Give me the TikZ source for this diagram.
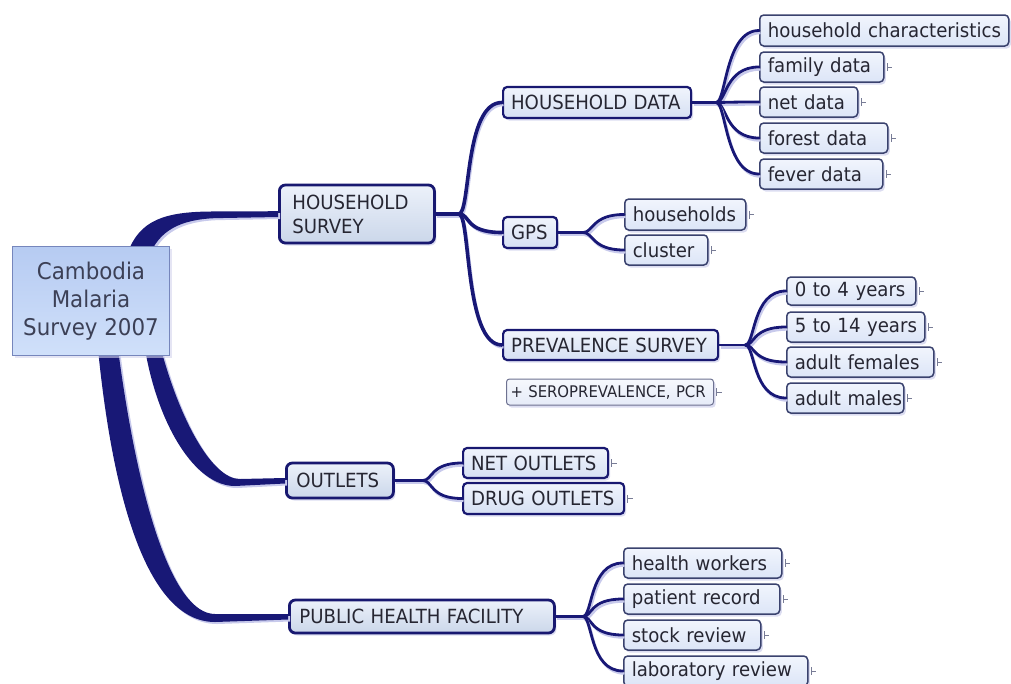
\documentclass[tikz,border=0pt]{standalone}
\usepackage{fontspec}
\setmainfont{DejaVu Sans}[FakeStretch=0.93]
\usetikzlibrary{calc,shadows}
\definecolor{navy}{RGB}{24,24,112}
\definecolor{linec}{RGB}{24,24,118}
\definecolor{shad}{RGB}{212,213,238}
\definecolor{lshad}{RGB}{200,202,236}
\definecolor{txt}{RGB}{38,38,50}
\definecolor{leafb}{RGB}{58,66,110}
\definecolor{stubc}{RGB}{120,124,150}
\tikzset{
  x=1pt, y=-1pt,
  base/.style={anchor=west, inner xsep=8pt, inner ysep=0pt, align=left, text=txt,
    rounded corners=4pt, font=\fontsize{19.5}{24}\selectfont,
    drop shadow={shadow xshift=2pt, shadow yshift=-2.5pt, fill=shad, opacity=0.8}},
  lvtwo/.style={base, draw=navy, line width=2.8pt, rounded corners=6pt,
    top color={rgb,255:red,236;green,241;blue,250}, bottom color={rgb,255:red,203;green,215;blue,234}},
  lvthree/.style={base, draw=navy, line width=2.2pt,
    top color={rgb,255:red,240;green,244;blue,252}, bottom color={rgb,255:red,214;green,224;blue,243}},
  leaf/.style={base, draw=leafb, line width=1.5pt,
    top color={rgb,255:red,241;green,245;blue,253}, bottom color={rgb,255:red,220;green,229;blue,247}},
  note/.style={base, draw={rgb,255:red,110;green,114;blue,145}, line width=1pt, rounded corners=3pt,
    inner xsep=4pt, font=\fontsize{16}{19}\selectfont,
    top color={rgb,255:red,246;green,248;blue,253}, bottom color={rgb,255:red,230;green,235;blue,248}},
  conn/.style={draw=linec, line width=2.8pt, line cap=round,
    preaction={draw=lshad, line width=2.4pt, transform canvas={shift={(1.5pt,-2.5pt)}}}},
  connb/.style={conn, line width=3.6pt},
  trunk/.style={fill=linec, draw=none,
    preaction={fill=lshad, transform canvas={shift={(2pt,-2pt)}}}},
  stub/.style={draw=stubc, line width=1pt},
}
\newcommand{\stubat}[1]{\draw[stub] ($(#1.east)+(2.5,0)$) -- ++(5,0); \draw[stub] ($(#1.east)+(2.5,-4)$) -- ++(0,8);}
\begin{document}
\begin{tikzpicture}
\useasboundingbox[fill=white] (0,0) rectangle (1011,683);

% ---------- nodes ----------
\node[lvtwo, inner xsep=13pt, text width=129pt, minimum height=58pt] (hs) at (278,214) {HOUSEHOLD\\SURVEY};
\node[lvtwo, inner xsep=10pt, text width=87pt, minimum height=35pt] (out) at (285,480.5) {OUTLETS};
\node[lvtwo, inner xsep=10pt, text width=245pt, minimum height=33pt] (phf) at (288,616.5) {\mbox{PUBLIC HEALTH FACILITY}};

\node[lvthree, text width=172pt, minimum height=31pt] (hd) at (502,102.5) {\mbox{HOUSEHOLD DATA}};
\node[lvthree, text width=38pt, minimum height=31pt] (gps) at (502,232.5) {GPS};
\node[lvthree, text width=199pt, minimum height=30pt] (ps) at (502,345) {\mbox{PREVALENCE SURVEY}};
\node[note, text width=199pt, minimum height=26pt] (sero) at (506,392) {\mbox{+ SEROPREVALENCE, PCR}};
\node[lvthree, text width=129pt, minimum height=30pt] (no) at (462,463) {\mbox{NET OUTLETS}};
\node[lvthree, text width=145pt, minimum height=31pt] (do) at (462,498.5) {\mbox{DRUG OUTLETS}};

\node[leaf, text width=233pt, minimum height=31pt] (hc) at (759,30.5) {\mbox{household characteristics}};
\node[leaf, text width=108pt, minimum height=30pt] (fam) at (759,67) {\mbox{family data}};
\node[leaf, text width=82pt, minimum height=30pt] (net) at (759,102) {\mbox{net data}};
\node[leaf, text width=112pt, minimum height=30pt] (forest) at (759,138) {\mbox{forest data}};
\node[leaf, text width=107pt, minimum height=30pt] (fever) at (759,174) {\mbox{fever data}};

\node[leaf, text width=105pt, minimum height=31pt] (hh) at (624,214.5) {households};
\node[leaf, text width=67pt, minimum height=30pt] (cl) at (624,250) {cluster};

\node[leaf, text width=113pt, minimum height=28pt] (ya) at (786,291) {\mbox{0 to 4 years}};
\node[leaf, text width=122pt, minimum height=30pt] (yb) at (786,327) {\mbox{5 to 14 years}};
\node[leaf, text width=131pt, minimum height=30pt] (af) at (786,362) {\mbox{adult females}};
\node[leaf, text width=101pt, minimum height=30pt] (am) at (786,398) {\mbox{adult males}};

\node[leaf, text width=142pt, minimum height=30pt] (hw) at (623,563) {\mbox{health workers}};
\node[leaf, text width=140pt, minimum height=30pt] (pr) at (623,599) {\mbox{patient record}};
\node[leaf, text width=121pt, minimum height=30pt] (sr) at (623,635) {\mbox{stock review}};
\node[leaf, text width=168pt, minimum height=30pt] (lr) at (623,671) {\mbox{laboratory review}};

% ---------- stubs ----------
\foreach \n in {fam,net,forest,fever,hh,cl,ya,yb,af,am,sero,no,do,hw,pr,sr,lr}{\stubat{\n}}

% ---------- junctions ----------
\coordinate (j1) at ($(hs.east)+(23,0)$);
\coordinate (j2) at ($(hd.east)+(24,0)$);
\coordinate (j3) at ($(gps.east)+(25,0)$);
\coordinate (j4) at ($(ps.east)+(26,0)$);
\coordinate (j5) at ($(out.east)+(28,0)$);
\coordinate (j6) at ($(phf.east)+(27,0)$);

% ---------- connectors ----------
\draw[connb] (hs.east) -- (j1);
\foreach \c in {hd,gps,ps}{\draw[connb] (j1) .. controls +(12,0) and +(-38,0) .. (\c.west);}
\draw[conn] (hd.east) -- (j2);
\foreach \c in {hc,fam,net,forest,fever}{\draw[conn] (j2) .. controls +(10,0) and +(-34,0) .. (\c.west);}
\draw[conn] (gps.east) -- (j3);
\foreach \c in {hh,cl}{\draw[conn] (j3) .. controls +(10,0) and +(-32,0) .. (\c.west);}
\draw[conn] (ps.east) -- (j4);
\foreach \c in {ya,yb,af,am}{\draw[conn] (j4) .. controls +(10,0) and +(-34,0) .. (\c.west);}
\draw[conn] (out.east) -- (j5);
\foreach \c in {no,do}{\draw[conn] (j5) .. controls +(10,0) and +(-32,0) .. (\c.west);}
\draw[conn] (phf.east) -- (j6);
\foreach \c in {hw,pr,sr,lr}{\draw[conn] (j6) .. controls +(10,0) and +(-34,0) .. (\c.west);}

% ---------- root trunks ----------
\coordinate (rnw) at (12,246);
\coordinate (rsw) at (12,355);
\fill[trunk] ($(rnw)+(116,6)$) .. controls (140,220) and (165,212) .. ($(hs.west)+(-68,-2.5)$)
  -- ($(hs.west)+(0,-2.8)$) -- ($(hs.west)+(0,3)$) -- ($(hs.west)+(-55,4)$)
  .. controls (185,218) and (162,228) .. ($(rnw)+(139,6)$) -- cycle;
\fill[trunk] ($(rsw)+(133,-6)$) .. controls (158,425) and (195,486) .. ($(out.west)+(-50,5.5)$)
  -- ($(out.west)+(0,3)$) -- ($(out.west)+(0,-2.5)$) -- ($(out.west)+(-45,-1.5)$)
  .. controls (212,479) and (180,420) .. ($(rsw)+(149,-6)$) -- cycle;
\fill[trunk] ($(rsw)+(86,-6)$) .. controls (112,490) and (145,622) .. ($(phf.west)+(-73,5.5)$)
  -- ($(phf.west)+(0,3)$) -- ($(phf.west)+(0,-2.5)$) -- ($(phf.west)+(-73,-2.5)$)
  .. controls (172,614) and (138,500) .. ($(rsw)+(106,-6)$) -- cycle;

% ---------- root ----------
\node[anchor=north west, minimum width=157pt, minimum height=109pt, inner sep=0pt,
  draw={rgb,255:red,118;green,134;blue,188}, line width=1pt,
  top color={rgb,255:red,182;green,203;blue,242}, bottom color={rgb,255:red,208;green,224;blue,250},
  align=center, text={rgb,255:red,60;green,64;blue,86}, font=\fontsize{23}{28}\selectfont,
  drop shadow={shadow xshift=2pt, shadow yshift=-2pt, fill=shad, opacity=0.6}]
  (root) at (rnw) {Cambodia\\Malaria\\Survey 2007};
\end{tikzpicture}
\end{document}
